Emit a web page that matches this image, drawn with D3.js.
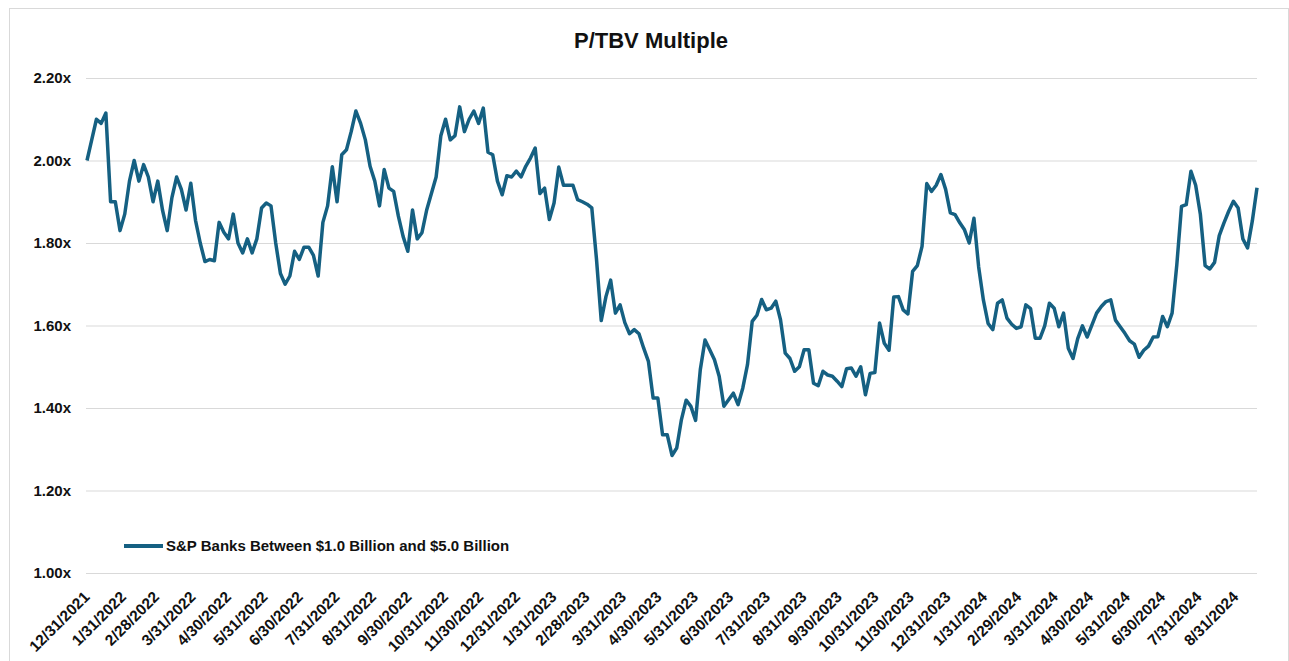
<!DOCTYPE html>
<html>
<head>
<meta charset="utf-8">
<script src="https://cdn.jsdelivr.net/npm/d3@7"></script>
<style>
	body { margin: 0; background: #fff; }
	text { font-family: "Liberation Sans", Arial, sans-serif; font-weight: bold; fill: #111; }
	.grid line { stroke: #d9d9d9; stroke-width: 1; }
	.grid path, .xaxis path { display: none; }
</style>
</head>
<body>
<svg id="viz"></svg>
<script>

	// the data: P/TBV multiple, one reading every 4 days starting 12/31/2021
	var startDate = "12/31/2021";
	var stepDays = 4;

	var pbv2022 = [
		2.00, 2.05, 2.10, 2.09, 2.115, 1.90, 1.90, 1.83, 1.87, 1.95,
		2.00, 1.95, 1.99, 1.96, 1.90, 1.95, 1.88, 1.83, 1.91, 1.96,
		1.93, 1.88, 1.945, 1.855, 1.80, 1.755, 1.76, 1.757, 1.85, 1.826,
		1.81, 1.87, 1.80, 1.776, 1.81, 1.776, 1.81, 1.885, 1.897, 1.89,
		1.80, 1.726, 1.70, 1.72, 1.78, 1.76, 1.79, 1.79, 1.77, 1.72,
		1.85, 1.89, 1.985, 1.90, 2.014, 2.026, 2.07, 2.12, 2.09, 2.05,
		1.986, 1.95, 1.89, 1.978, 1.933, 1.925, 1.865, 1.816, 1.78, 1.88,
		1.81, 1.825, 1.88, 1.92, 1.96, 2.06, 2.10, 2.05, 2.06, 2.13,
		2.07, 2.10, 2.12, 2.09, 2.127, 2.02, 2.014, 1.95, 1.917, 1.963,
		1.96, 1.974
	];

	var pbv2023 = [
		1.96, 1.986, 2.006, 2.03, 1.92, 1.933, 1.857, 1.897, 1.984, 1.94,
		1.94, 1.94, 1.905, 1.90, 1.894, 1.885, 1.76, 1.612, 1.67, 1.71,
		1.63, 1.65, 1.607, 1.58, 1.59, 1.58, 1.545, 1.513, 1.424, 1.424,
		1.335, 1.335, 1.285, 1.303, 1.372, 1.419, 1.404, 1.37, 1.493, 1.565,
		1.541, 1.517, 1.477, 1.404, 1.42, 1.436, 1.408, 1.448, 1.505, 1.61,
		1.625, 1.663, 1.638, 1.642, 1.659, 1.614, 1.533, 1.52, 1.489, 1.50,
		1.541, 1.541, 1.46, 1.454, 1.489, 1.48, 1.477, 1.465, 1.452, 1.495,
		1.497, 1.477, 1.50, 1.432, 1.484, 1.486, 1.606, 1.557, 1.54, 1.669,
		1.67, 1.638, 1.628, 1.731, 1.745, 1.792, 1.944, 1.925, 1.94, 1.966,
		1.93
	];

	var pbv2024 = [
		1.873, 1.869, 1.849, 1.832, 1.80, 1.86, 1.742, 1.662, 1.605, 1.59,
		1.654, 1.662, 1.618, 1.603, 1.593, 1.597, 1.65, 1.641, 1.569, 1.569,
		1.599, 1.654, 1.642, 1.597, 1.63, 1.545, 1.52, 1.568, 1.599, 1.572,
		1.601, 1.63, 1.646, 1.658, 1.662, 1.613, 1.597, 1.581, 1.563, 1.555,
		1.523, 1.54, 1.55, 1.572, 1.573, 1.622, 1.597, 1.63, 1.747, 1.889,
		1.893, 1.974, 1.94, 1.869, 1.745, 1.737, 1.753, 1.818, 1.849, 1.877,
		1.901, 1.885, 1.81, 1.788, 1.853, 1.934
	];

	var tickLabels = [
		"12/31/2021", "1/31/2022", "2/28/2022", "3/31/2022", "4/30/2022", "5/31/2022",
		"6/30/2022", "7/31/2022", "8/31/2022", "9/30/2022", "10/31/2022", "11/30/2022",
		"12/31/2022", "1/31/2023", "2/28/2023", "3/31/2023", "4/30/2023", "5/31/2023",
		"6/30/2023", "7/31/2023", "8/31/2023", "9/30/2023", "10/31/2023", "11/30/2023",
		"12/31/2023", "1/31/2024", "2/29/2024", "3/31/2024", "4/30/2024", "5/31/2024",
		"6/30/2024", "7/31/2024", "8/31/2024"
	];

	var yTicks = [1.00, 1.20, 1.40, 1.60, 1.80, 2.00, 2.20];

	var title = "P/TBV Multiple";
	var seriesName = "S&P Banks Between $1.0 Billion and $5.0 Billion";



	// build the dated series
	var parse = d3.timeParse("%m/%d/%Y");
	var start = parse(startDate);
	var dataset = pbv2022.concat(pbv2023, pbv2024).map(function(v, i) {
		return {date: d3.timeDay.offset(start, i * stepDays), value: v};
	});
	var tickDates = tickLabels.map(function(s) { return parse(s); });



	// set up the svg
	var w = 1289;
	var h = 661;
	var viz = d3.select("#viz").attr("width", w).attr("height", h);

	var plotLeft = 87, plotRight = 1257, plotTop = 78, plotBottom = 573;
	var lineColor = "#156082";

	var x = d3.scaleTime()
		.domain(d3.extent(dataset, function(d) { return d.date; }))
		.range([plotLeft, plotRight]);

	var y = d3.scaleLinear()
		.domain([1.0, 2.2])
		.range([plotBottom, plotTop]);



	// chart border
	viz.append("rect")
		.attr("x", 9.5).attr("y", 8.5)
		.attr("width", 1279).attr("height", 680)
		.attr("fill", "none")
		.attr("stroke", "#d9d9d9");

	// title
	viz.append("text")
		.attr("x", 651).attr("y", 48)
		.attr("text-anchor", "middle")
		.style("font-size", "22px")
		.text(title);



	// gridlines and y labels
	var yAxis = viz.append("g")
		.attr("class", "grid")
		.attr("transform", "translate(" + (plotLeft - 1) + ",0)")
		.call(d3.axisLeft(y)
			.tickValues(yTicks)
			.tickSize(-(plotRight - plotLeft + 1))
			.tickPadding(15)
			.tickFormat(function(d) { return d3.format(".2f")(d) + "x"; }));

	yAxis.selectAll("text")
		.style("font-size", "15px")
		.attr("fill", "#111");



	// x axis, labels turned 45 degrees
	var xAxis = viz.append("g")
		.attr("class", "xaxis")
		.attr("transform", "translate(0," + plotBottom + ")")
		.call(d3.axisBottom(x)
			.tickValues(tickDates)
			.tickSize(0)
			.tickFormat(function(d, i) { return tickLabels[i]; }));

	xAxis.selectAll("text")
		.style("font-size", "15.5px")
		.attr("fill", "#111")
		.attr("text-anchor", "end")
		.attr("dy", null)
		.attr("y", null)
		.attr("transform", "translate(3,25) rotate(-45)");



	// draw the line
	var line = d3.line()
		.x(function(d) { return x(d.date); })
		.y(function(d) { return y(d.value); });

	viz.append("path")
		.datum(dataset)
		.attr("d", line)
		.attr("fill", "none")
		.attr("stroke", lineColor)
		.attr("stroke-width", 3.5)
		.attr("stroke-linejoin", "round");



	// legend
	viz.append("line")
		.attr("x1", 124).attr("x2", 163)
		.attr("y1", 546).attr("y2", 546)
		.attr("stroke", lineColor)
		.attr("stroke-width", 4);

	viz.append("text")
		.attr("x", 166).attr("y", 551)
		.style("font-size", "15px")
		.text(seriesName);

</script>
</body>
</html>
